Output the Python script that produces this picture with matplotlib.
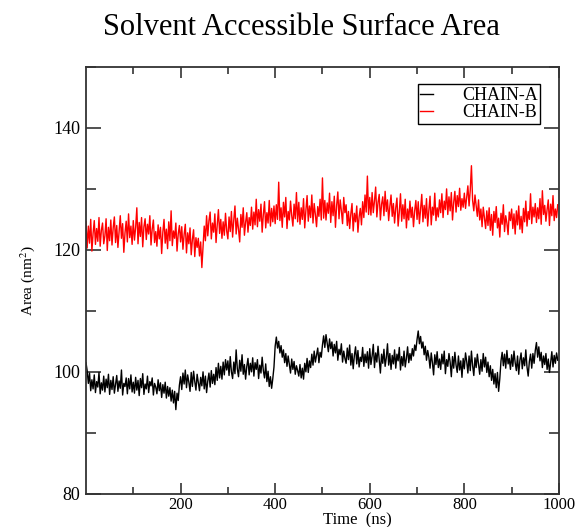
import matplotlib
matplotlib.use("Agg")
import matplotlib.pyplot as plt
import numpy as np

plt.rcParams['font.family'] = ['Liberation Serif', 'DejaVu Serif']
plt.rcParams['mathtext.fontset'] = 'stix'

# sampling grid of the trajectory (ns)
time = np.arange(0, 1000, 2.5)

# SASA of chain A (nm^2), one row = 50 ns
chain_a = [
    101.5, 100.2, 98.1, 99.8, 96.9, 98.7, 97.2, 99.5, 96.6, 98.4, 97.5, 99.9, 96.4, 98.2, 97.0, 99.3, 96.7, 98.8, 97.4, 99.6,
    96.3, 98.6, 97.1, 99.2, 96.5, 98.0, 99.4, 96.8, 98.5, 97.3, 100.3, 96.2, 98.1, 97.6, 99.0, 96.4, 98.9, 97.2, 99.5, 96.7,
    98.3, 96.5, 99.1, 97.0, 98.6, 96.1, 98.9, 97.4, 99.7, 96.3, 98.0, 97.2, 99.3, 96.6, 98.4, 97.7, 99.0, 96.2, 98.1, 97.5,
    96.4, 98.7, 96.9, 98.2, 95.8, 97.9, 96.5, 98.3, 95.7, 97.6, 96.0, 97.4, 95.2, 97.0, 94.9, 96.8, 93.8, 96.5, 95.3, 97.8,
    99.2, 97.1, 99.8, 98.0, 100.3, 97.4, 99.5, 98.3, 96.8, 99.9, 97.6, 100.1, 98.4, 97.0, 99.6, 98.2, 96.9, 99.1, 97.7, 100.0,
    97.2, 99.3, 96.6, 98.5, 99.8, 97.5, 100.2, 98.1, 99.6, 97.9, 100.7, 98.6, 101.4, 99.0, 100.9, 98.8, 101.6, 99.5, 102.0, 100.3,
    101.8, 99.4, 102.5, 100.0, 98.9, 101.6, 99.7, 103.6, 100.5, 99.2, 101.9, 100.1, 102.8, 99.6, 101.2, 98.8, 100.9, 102.2, 99.5, 101.4,
    100.0, 102.3, 99.3, 101.5, 100.4, 102.0, 98.9, 101.1, 99.8, 102.4, 100.2, 99.0, 101.3, 98.4, 100.1, 97.6, 99.2, 97.3, 98.9, 100.8,
    104.2, 105.7, 103.9, 105.0, 103.1, 104.3, 102.4, 103.6, 101.5, 103.0, 100.9, 102.6, 101.2, 99.8, 102.1, 100.4, 101.7, 99.6, 101.0, 100.2,
    99.3, 101.2, 99.0, 100.6, 98.8, 101.4, 100.0, 102.2, 99.9, 101.8, 100.7, 102.9, 101.1, 103.4, 101.6, 102.8, 103.9, 101.5, 103.2, 102.4,
    104.4, 105.9, 104.0, 106.1, 104.7, 103.3, 105.4, 103.8, 104.9, 102.6, 104.5, 103.1, 105.0, 101.9, 103.7, 102.8, 104.6, 101.6, 103.4, 102.2,
    101.4, 103.9, 102.0, 104.4, 101.1, 103.0, 100.5, 102.7, 104.1, 101.3, 103.5, 100.8, 102.4, 101.7, 104.0, 100.9, 102.9, 101.5, 103.3, 100.6,
    103.8, 101.2, 102.6, 104.5, 100.7, 103.1, 101.6, 104.2, 102.0, 99.8, 102.9, 101.4, 103.7, 100.9, 102.3, 104.6, 101.1, 103.0, 100.4, 102.7,
    101.3, 103.6, 100.6, 102.9, 101.8, 104.0, 100.3, 102.5, 101.0, 103.4, 100.8, 102.2, 104.1, 101.5, 103.0, 101.9, 103.8, 102.6, 104.4, 103.5,
    105.3, 106.7, 104.6, 105.8, 103.9, 104.9, 102.8, 104.2, 101.9, 103.5, 102.4, 100.6, 103.1, 101.5, 99.5, 102.8, 101.2, 103.3, 100.7, 102.1,
    100.4, 102.9, 101.3, 103.4, 99.7, 102.0, 100.9, 103.0, 101.6, 99.2, 102.5, 100.6, 103.2, 101.1, 99.9, 102.6, 100.3, 101.8, 99.1, 102.2,
    100.5, 103.1, 101.7, 99.8, 102.6, 100.2, 103.4, 101.0, 99.4, 102.3, 100.7, 102.9, 101.3, 99.6, 102.0, 100.1, 103.0, 100.8, 102.4, 99.9,
    101.6, 99.2, 101.0, 98.6, 100.4, 98.0, 99.7, 97.4, 99.9, 96.8, 98.9, 101.8, 103.2, 101.0, 102.9, 100.6, 103.5, 101.3, 102.2, 100.4,
    102.8, 100.9, 103.4, 101.5, 100.2, 102.6, 99.6, 101.9, 103.1, 100.5, 102.3, 101.0, 103.6, 100.8, 99.3, 101.7, 102.9, 100.6, 103.0, 101.4,
    103.5, 104.8, 102.4, 104.1, 101.8, 103.2, 100.7, 102.6, 101.2, 103.0, 100.4, 102.1, 99.9, 101.5, 103.3, 100.8, 102.7, 101.4, 103.1, 101.9,
]

# SASA of chain B (nm^2)
chain_b = [
    124.6, 120.3, 123.9, 121.1, 125.0, 119.8, 122.7, 124.8, 120.9, 123.5, 121.4, 125.3, 120.6, 123.2, 124.4, 121.0, 122.3, 125.1, 119.9, 123.7,
    121.5, 124.9, 120.8, 123.6, 125.4, 121.2, 124.0, 120.4, 123.1, 125.6, 121.9, 124.3, 119.6, 122.8, 124.7, 121.3, 125.9, 122.0, 123.9, 120.9,
    124.8, 121.6, 123.7, 126.9, 121.0, 124.5, 122.2, 125.3, 120.5, 123.8, 125.1, 121.7, 124.2, 122.6, 125.6, 120.8, 123.4, 124.9, 121.2, 123.0,
    120.6, 124.1, 121.8, 123.7, 119.4, 122.9, 125.0, 121.1, 123.4, 120.2, 124.6, 121.5, 126.4, 120.7, 123.1, 121.9, 124.4, 119.8, 122.6, 124.0,
    121.3, 123.8, 120.1, 122.5, 124.2, 119.5, 122.8, 121.0, 123.6, 119.2, 121.7, 123.3, 118.9, 122.0, 120.4, 121.9, 119.0, 121.3, 117.1, 120.6,
    123.9, 121.5, 125.6, 122.3, 124.8, 126.2, 121.8, 124.4, 122.9, 125.9, 121.2, 124.1, 126.6, 122.7, 125.0, 121.9, 124.6, 122.4, 126.0, 123.1,
    121.8, 125.4, 123.0, 126.3, 122.1, 124.9, 127.2, 122.6, 125.2, 123.4, 121.3, 125.8, 123.7, 126.9, 122.4, 124.5, 126.1, 122.9, 125.3, 124.0,
    127.0, 123.4, 126.2, 124.1, 128.3, 123.8, 126.6, 124.7, 127.5, 122.9, 125.8, 127.9, 123.6, 126.1, 124.4, 128.1, 123.9, 126.8, 124.6, 127.2,
    124.3, 127.4, 125.0, 131.1, 124.8, 126.9, 123.7, 127.8, 125.4, 128.6, 123.5, 126.3, 124.9, 128.0, 125.6, 123.9, 127.5, 125.1, 129.4, 124.6,
    127.8, 124.2, 126.9, 125.0, 128.4, 123.6, 126.5, 128.9, 124.7, 127.2, 125.3, 129.0, 124.4, 127.6, 125.8, 123.8, 127.1, 125.5, 128.3, 124.9,
    131.8, 125.2, 128.1, 124.9, 127.7, 126.0, 129.3, 124.5, 127.9, 125.6, 128.8, 123.7, 127.3, 129.5, 125.1, 128.2, 126.4, 124.3, 128.6, 126.1,
    127.4, 124.0, 126.3, 123.5, 125.9, 127.6, 123.1, 126.0, 124.6, 127.2, 122.9, 125.4, 126.8, 124.1, 127.9, 125.3, 129.0, 126.2, 132.1, 125.8,
    128.6, 125.7, 129.4, 126.1, 128.0, 130.3, 125.4, 127.8, 129.1, 124.9, 127.5, 128.7, 125.6, 129.6, 126.3, 128.2, 124.8, 127.1, 129.0, 125.5,
    127.6, 124.4, 126.9, 128.5, 123.9, 126.2, 129.2, 124.7, 127.4, 125.1, 128.3, 123.6, 126.7, 124.9, 128.0, 125.3, 127.0, 123.8, 126.4, 128.1,
    125.0, 127.9, 124.3, 126.8, 129.1, 124.6, 127.3, 125.2, 128.4, 123.9, 126.5, 128.8, 124.1, 127.0, 125.7, 129.3, 124.8, 126.9, 125.4, 128.2,
    126.1, 129.2, 125.3, 128.0, 126.6, 130.0, 125.8, 128.7, 126.4, 129.4, 124.9, 127.8, 129.6, 126.2, 128.9, 127.1, 130.1, 126.5, 128.4, 127.0,
    129.3, 126.8, 128.6, 130.5, 127.2, 129.8, 133.8, 128.1, 126.4, 129.0, 127.3, 125.5, 128.2, 124.9, 126.7, 123.8, 127.0, 125.2, 123.5, 126.4,
    124.0, 126.9, 123.2, 125.8, 122.4, 126.3, 124.5, 127.1, 123.6, 125.2, 122.1, 126.0, 124.2, 127.4, 123.0, 125.6, 124.4, 122.5, 126.2, 124.8,
    126.7, 123.5, 125.9, 122.6, 126.4, 124.1, 127.2, 123.4, 125.5, 122.8, 126.8, 124.6, 128.0, 123.9, 126.3, 125.0, 129.2, 124.3, 127.0, 125.4,
    127.6, 124.5, 126.9, 125.1, 128.4, 124.2, 129.7, 125.8, 127.3, 124.7, 126.6, 128.2, 124.0, 127.5, 125.6, 128.9, 124.8, 126.7, 125.3, 127.4,
]

x_ticks = [200, 400, 600, 800, 1000]
y_ticks = [80, 100, 120, 140]

fig = plt.figure(figsize=(5.81, 5.27), dpi=100)
ax = fig.add_axes([0.148, 0.063, 0.814, 0.81])

ax.plot(time, chain_a, color='black', lw=1.0, label='CHAIN-A')
ax.plot(time, chain_b, color='#ff0000', lw=1.0, label='CHAIN-B')

ax.set_xlim(0, 1000)
ax.set_ylim(80, 150)
ax.set_xticks(x_ticks)
ax.set_yticks(y_ticks)
ax.set_xticks(np.arange(100, 1000, 200), minor=True)
ax.set_yticks([90, 110, 130, 150], minor=True)
ax.tick_params(which='both', direction='in', top=True, right=True,
               color='#333333', width=1.2, labelsize=13)
ax.tick_params(axis='x', which='major', length=8, pad=2, labelsize=12)
ax.tick_params(axis='x', which='minor', length=5)
ax.tick_params(axis='y', which='major', length=11, pad=4)
ax.tick_params(axis='y', which='minor', length=7)
for s in ax.spines.values():
    s.set_color('#333333')
    s.set_linewidth(1.3)

ax.set_xlabel('Time  (ns)', fontsize=12)
ax.xaxis.set_label_coords(0.573, -0.043)
ax.set_ylabel('Area (nm$^2$)', fontsize=11, labelpad=12)

leg = ax.legend(loc='upper right', fontsize=13, handlelength=0.7,
                handletextpad=1.6, borderpad=0.15, labelspacing=0.0,
                fancybox=False, framealpha=1, bbox_to_anchor=(0.98, 0.98))
leg.get_frame().set_edgecolor('black')
leg.get_frame().set_linewidth(1.0)

fig.text(0.518, 1 - 35 / 527, 'Solvent Accessible Surface Area',
         ha='center', va='baseline', fontsize=22)

fig.savefig('out.png', dpi=100)
